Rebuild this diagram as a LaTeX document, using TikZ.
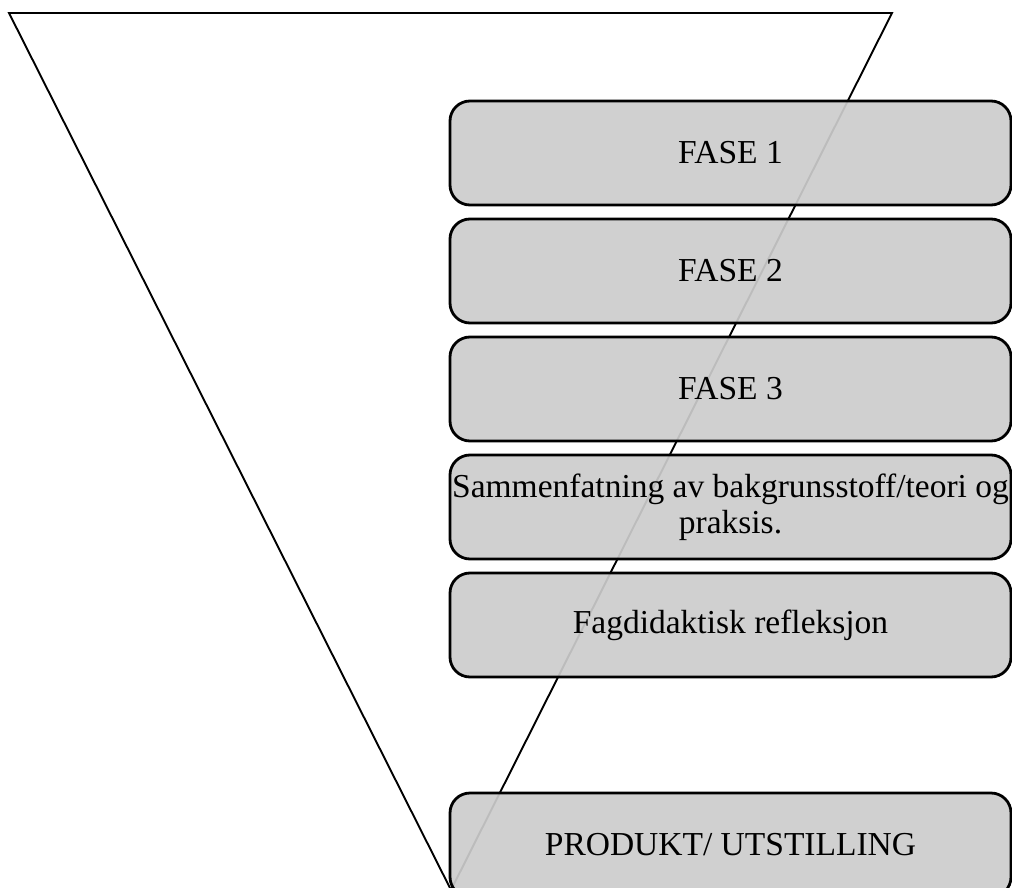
\documentclass[tikz,border=0pt]{standalone}
\usepackage{fontspec}
\setmainfont{Liberation Serif}
\usetikzlibrary{positioning}

\begin{document}
\begin{tikzpicture}[
    x=1pt, y=1pt,
    font=\fontsize{33.5}{36}\selectfont,
    fase/.style={draw, line width=2.8pt, rounded corners=20pt, fill=black!20, fill opacity=0.92, text opacity=1, minimum width=561pt, minimum height=104pt, align=center, inner sep=0pt, outer sep=0pt},
    funnel/.style={draw, line width=1.9pt, line join=miter}
]
\useasboundingbox (0,0) rectangle (1012,-888);
\draw[funnel] (9,-13) -- (892,-13) -- (451,-890) -- cycle;
\node[fase] (f1) at (730.5,-153) {FASE 1};
\node[fase, below=14pt of f1] (f2) {FASE 2};
\node[fase, below=14pt of f2] (f3) {FASE 3};
\node[fase, below=14pt of f3] (samm) {Sammenfatning av bakgrunsstoff/teori og\\praksis.};
\node[fase, below=14pt of samm] (refl) {Fagdidaktisk refleksjon};
\node[fase, below=116pt of refl] (prod) {PRODUKT/ UTSTILLING};
\end{tikzpicture}
\end{document}
